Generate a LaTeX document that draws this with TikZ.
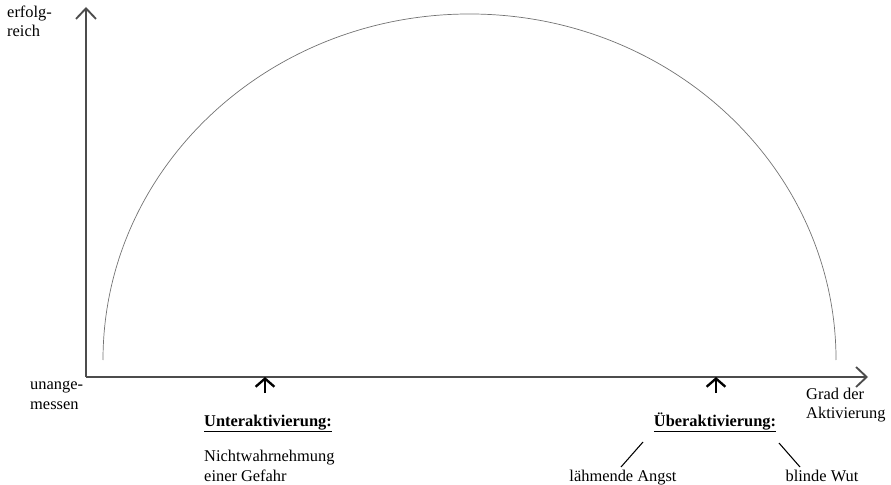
\documentclass[tikz,border=0pt]{standalone}
\usepackage{fontspec}
\setmainfont{Liberation Serif}
\usetikzlibrary{arrows.meta}

\begin{document}
\begin{tikzpicture}[x=0.03cm,y=-0.03cm,
      lbl/.style={font=\fontsize{14}{16.5}\selectfont,align=left,inner sep=0pt},
      axis/.style={draw=black!70,line width=1.2pt,-{Straight Barb[length=9pt,width=17pt,line width=1.6pt]}},
      pointer/.style={black,line width=1.8pt,-{Straight Barb[length=7pt,width=16pt,line width=2pt]}},
      curve/.style={draw=black!55,line width=0.6pt}]
    \useasboundingbox (0,0) rectangle (891,485);
    % axes
    \coordinate (origin) at (86,377);
    \coordinate (ytip) at (86,7);
    \coordinate (xtip) at (868,377);
    \draw[axis] (origin) -- (ytip);
    \draw[axis] (origin) -- (xtip);
    % curve
    \draw[curve] (103,360) arc[start angle=180,end angle=0,x radius=10.995cm,y radius=10.38cm];
    % axis labels (base = last line)
    \node[lbl,anchor=base west] (good) at (7,37) {erfolg-\\reich};
    \node[lbl,anchor=base west] (bad) at (30,409) {unange-\\messen};
    \node[lbl,anchor=base west,font=\fontsize{14}{15.5}\selectfont] (degree) at (806,418) {Grad der\\Aktivierung};
    % under-activation
    \node[lbl,anchor=base west,font=\fontsize{14}{16.5}\selectfont\bfseries] (under) at (204,426) {\underline{Unteraktivierung:}};
    \node[lbl,anchor=base west] (underdesc) at (204,481) {Nichtwahrnehmung\\einer Gefahr};
    \coordinate (undertip) at (265,377);
    \coordinate (undertail) at (265,393);
    \draw[pointer] (undertail) -- (undertip);
    % over-activation
    \node[lbl,anchor=base,font=\fontsize{14}{16.5}\selectfont\bfseries] (over) at (715,426) {\underline{Überaktivierung:}};
    \coordinate (overtip) at (716,377);
    \coordinate (overtail) at (716,393);
    \draw[pointer] (overtail) -- (overtip);
    \node[lbl,anchor=base] (fear) at (623,481) {lähmende Angst};
    \node[lbl,anchor=base] (rage) at (822,481) {blinde Wut};
    \coordinate (fearend) at (621,467);
    \coordinate (overleft) at (643,442);
    \coordinate (rageend) at (800,467);
    \coordinate (overright) at (779,443);
    \draw[black,line width=0.9pt] (overleft) -- (fearend);
    \draw[black,line width=0.9pt] (overright) -- (rageend);
  \end{tikzpicture}
\end{document}
